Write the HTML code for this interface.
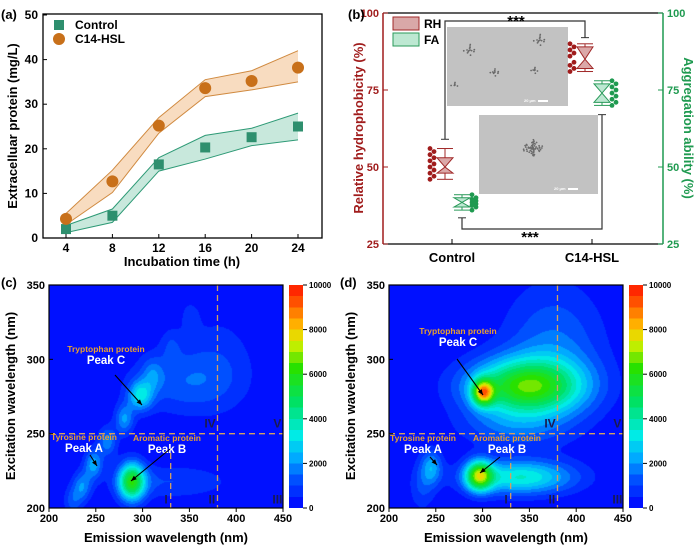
<!DOCTYPE html>
<html><head><meta charset="utf-8"><style>
html,body{margin:0;padding:0;background:#fff;}
#wrap{position:relative;width:700px;height:550px;overflow:hidden;font-family:"Liberation Sans",Arial,sans-serif;}
canvas{position:absolute;}
svg{position:absolute;left:0;top:0;}
text{font-family:"Liberation Sans",Arial,sans-serif;font-weight:bold;}
</style></head><body>
<div id="wrap">
<canvas id="cvC" width="234" height="223" style="left:49px;top:285px"></canvas>
<canvas id="cvD" width="234" height="223" style="left:389px;top:285px"></canvas>
<svg id="svg" width="700" height="550"></svg>
</div>
<script>
// ---- Panel (a) data ----
const timeCats = [4, 8, 12, 16, 20, 24];
const ctrlMean = [2.0, 5.0, 16.5, 20.3, 22.6, 25.0];
const ctrlLow  = [1.2, 3.5, 15.0, 17.7, 20.7, 22.0];
const ctrlHigh = [2.8, 6.5, 18.0, 23.0, 24.6, 28.0];
const hslMean  = [4.3, 12.7, 25.2, 33.6, 35.2, 38.2];
const hslLow   = [3.0, 10.2, 23.5, 31.7, 33.2, 35.0];
const hslHigh  = [5.5, 15.2, 27.0, 35.5, 37.5, 42.0];
const aYTicks = [0, 10, 20, 30, 40, 50];
// ---- Panel (b) data ----
const bCats = ["Control", "C14-HSL"];
const rhPoints = [[46,47,48,49,50,51,52,53,54,55,56],[81,82,83,84,86,87,88,89,90]];
const faPoints = [[36,37,37.5,38,38.5,39,39.5,40,41],[70,71,72,73,74,75,76,77,78]];
const rhBox = [[46,48,50,53,56],[81,82,85,89,90]];
const faBox = [[36,37,38.5,40,41],[70,71,74,77,78]];
const bTicks = [25, 50, 75, 100];
// ---- Panel (c) peaks ----
const cEm = [288, 330, 340, 380, 225, 235, 247, 262, 280, 297, 310, 330, 350];
const cEx = [218, 218, 285, 300, 205, 215, 230, 245, 260, 276, 290, 310, 330];
const cI  = [5500,1000,1200, 700,1200,1800,2200,1800,2000,2800,1200, 700, 500];
const cSx = [10, 45, 40, 30, 7, 7, 7, 7, 7, 9, 8, 8, 8];
const cSy = [9, 8, 15, 25, 7, 7, 7, 7, 7, 7, 8, 8, 8];
// ---- Panel (d) peaks ----
const dEm = [300, 345, 296, 340, 245, 375, 330, 235];
const dEx = [278, 282, 222, 221, 228, 305, 255, 215];
const dI  = [6000,5800,6000,3500,2000,1600,1200,1000];
const dSx = [8, 42, 10, 40, 8, 38, 40, 10];
const dSy = [6, 13, 7, 8, 8, 32, 10, 12];
const cbTicks = [0, 2000, 4000, 6000, 8000, 10000];

const NS = "http://www.w3.org/2000/svg";
const svg = document.getElementById('svg');
function mk(tag, attrs, parent, txt){const e=document.createElementNS(NS,tag);for(const k in attrs)e.setAttribute(k,attrs[k]);if(txt!==undefined)e.textContent=txt;(parent||svg).appendChild(e);return e;}

// ================= Panel (a) =================
const xa = t => 66 + (t-4)*(232/20);
const ya = v => 238 - v*4.46;
const ga = mk('g',{});


function band(lo,hi,fill,stroke,name){
  let d='M'+timeCats.map((t,i)=>xa(t)+','+ya(hi[i])).join('L')+'L'+timeCats.slice().reverse().map((t,j)=>{const i=timeCats.length-1-j;return xa(t)+','+ya(lo[i]);}).join('L')+'Z';
  const p=mk('path',{d:d,fill:fill,stroke:'none'},ga);
  
  
  const l1=mk('path',{d:'M'+timeCats.map((t,i)=>xa(t)+','+ya(hi[i])).join('L'),fill:'none',stroke:stroke,'stroke-width':1},ga);
  
  
  const l2=mk('path',{d:'M'+timeCats.map((t,i)=>xa(t)+','+ya(lo[i])).join('L'),fill:'none',stroke:stroke,'stroke-width':1},ga);
  
  
}
band(hslLow,hslHigh,'#f8dcc0','#d08a40','c14-hsl');
band(ctrlLow,ctrlHigh,'#c8e8dc','#2e9a76','control');
ctrlMean.forEach((v,i)=>{const r=mk('rect',{x:xa(timeCats[i])-5,y:ya(v)-5,width:10,height:10,fill:'#2e8f6e'},ga);
  
  });
hslMean.forEach((v,i)=>{const c=mk('circle',{cx:xa(timeCats[i]),cy:ya(v),r:6,fill:'#c8701a'},ga);
  
  });
mk('rect',{x:43,y:14,width:279,height:224,fill:'none',stroke:'#000','stroke-width':1.3},ga);
aYTicks.forEach(v=>{mk('line',{x1:43,x2:47,y1:ya(v),y2:ya(v),stroke:'#000'},ga);
  const t=mk('text',{x:38,y:ya(v)+4,'text-anchor':'end','font-size':12},ga,v);
  
  });
timeCats.forEach(v=>{mk('line',{x1:xa(v),x2:xa(v),y1:238,y2:234,stroke:'#000'},ga);
  const t=mk('text',{x:xa(v),y:252,'text-anchor':'middle','font-size':12},ga,v);
  
  });
let t;
t=mk('text',{x:182,y:266,'text-anchor':'middle','font-size':13},ga,'Incubation time (h)');


t=mk('text',{x:0,y:0,'text-anchor':'middle','font-size':13,transform:'translate(17,126) rotate(-90)'},ga,'Extracelluar protein (mg/L)');


t=mk('text',{x:1,y:19,'font-size':13},ga,'(a)');


mk('rect',{x:54,y:20,width:10,height:10,fill:'#2e8f6e'},ga);
t=mk('text',{x:75,y:29,'font-size':12},ga,'Control');


mk('circle',{cx:59,cy:39,r:6,fill:'#c8701a'},ga);
t=mk('text',{x:75,y:43,'font-size':12},ga,'C14-HSL');



// ================= Panel (b) =================
const yb = v => 244 - (v-25)*(231/75);
const bx = [452, 592];
const gb = mk('g',{});


function micro(x,y,w,h,name,clusters){
  const r=mk('rect',{x:x,y:y,width:w,height:h,fill:'#c2c2c2'},gb);
  
  
  clusters.forEach(c=>{for(let k=0;k<c[3];k++){mk('circle',{cx:c[0]+Math.cos(k*2.3)*c[2]*((k%5)/5),cy:c[1]+Math.sin(k*2.3)*c[2]*((k%7)/7)*0.8,r:0.9,fill:'#6a6a6a'},gb);}});
  mk('rect',{x:x+w-30,y:y+h-6,width:10,height:2,fill:'#fff'},gb);
  mk('text',{x:x+w-44,y:y+h-4,'font-size':4,fill:'#fff','font-weight':'normal'},gb,'20 μm');
}
micro(447,27,121,79,'microscope-image-control',[[470,50,8,14],[495,72,6,10],[540,40,8,14],[535,70,5,8],[455,85,5,6]]);
micro(479,115,119,79,'microscope-image-c14',[[533,148,12,60]]);
mk('path',{d:`M445,${yb(59)}V21H585V${yb(92)}`,fill:'none',stroke:'#333','stroke-width':1.2},gb);
mk('line',{x1:441,x2:449,y1:yb(59),y2:yb(59),stroke:'#333'},gb);
mk('line',{x1:581,x2:589,y1:yb(92),y2:yb(92),stroke:'#333'},gb);
t=mk('text',{x:516,y:26,'text-anchor':'middle','font-size':15},gb,'***');


mk('path',{d:`M462,${yb(33.5)}V229H602V${yb(67)}`,fill:'none',stroke:'#333','stroke-width':1.2},gb);
mk('line',{x1:458,x2:466,y1:yb(33.5),y2:yb(33.5),stroke:'#333'},gb);
mk('line',{x1:598,x2:606,y1:yb(67),y2:yb(67),stroke:'#333'},gb);
t=mk('text',{x:530,y:242,'text-anchor':'middle','font-size':15},gb,'***');


function boxplot(cx,b,fill,stroke,name){
  const g=mk('g',{},gb);
  
  
  const w=8;
  mk('line',{x1:cx,x2:cx,y1:yb(b[0]),y2:yb(b[4]),stroke:stroke},g);
  mk('line',{x1:cx-w,x2:cx+w,y1:yb(b[0]),y2:yb(b[0]),stroke:stroke},g);
  mk('line',{x1:cx-w,x2:cx+w,y1:yb(b[4]),y2:yb(b[4]),stroke:stroke},g);
  mk('path',{d:`M${cx-w},${yb(b[3])}L${cx+w},${yb(b[3])}L${cx},${yb(b[2])}L${cx+w},${yb(b[1])}L${cx-w},${yb(b[1])}L${cx},${yb(b[2])}Z`,fill:fill,stroke:stroke},g);
}
boxplot(bx[0]-7,rhBox[0],'#dba8a8','#a02828','rh-box-control');
boxplot(bx[1]-7,rhBox[1],'#dba8a8','#a02828','rh-box-c14');
boxplot(bx[0]+10,faBox[0],'#bde8d2','#2a9a5a','fa-box-control');
boxplot(bx[1]+10,faBox[1],'#bde8d2','#2a9a5a','fa-box-c14');
function dots(cx,vals,col,name){vals.forEach((v,i)=>{const c=mk('circle',{cx:cx+(i%2?2:-2),cy:yb(v),r:2.4,fill:col},gb);
  
  });}
dots(bx[0]-20,rhPoints[0],'#a01c1c','rh-point');
dots(bx[1]-20,rhPoints[1],'#a01c1c','rh-point');
dots(bx[0]+22,faPoints[0],'#1f9a50','fa-point');
dots(bx[1]+22,faPoints[1],'#1f9a50','fa-point');
mk('line',{x1:383,x2:663,y1:13,y2:13,stroke:'#000','stroke-width':1.3},gb);
mk('line',{x1:383,x2:663,y1:244,y2:244,stroke:'#000','stroke-width':1.3},gb);
mk('line',{x1:383,x2:383,y1:13,y2:244,stroke:'#a01c1c','stroke-width':1.5},gb);
mk('line',{x1:663,x2:663,y1:13,y2:244,stroke:'#1f9a50','stroke-width':1.5},gb);
bTicks.forEach(v=>{
  mk('line',{x1:383,x2:388,y1:yb(v),y2:yb(v),stroke:'#a01c1c'},gb);
  mk('line',{x1:658,x2:663,y1:yb(v),y2:yb(v),stroke:'#1f9a50'},gb);
  let a=mk('text',{x:379,y:yb(v)+4,'text-anchor':'end','font-size':11,fill:'#a01c1c'},gb,v);
  
  
  a=mk('text',{x:667,y:yb(v)+4,'font-size':11,fill:'#1f9a50'},gb,v);
  
  
});
bCats.forEach((c,i)=>{mk('line',{x1:bx[i],x2:bx[i],y1:244,y2:239,stroke:'#000'},gb);
  const a=mk('text',{x:bx[i],y:262,'text-anchor':'middle','font-size':13},gb,c);
  
  });
t=mk('text',{x:0,y:0,'text-anchor':'middle','font-size':13,fill:'#a01c1c',transform:'translate(363,128) rotate(-90)'},gb,'Relative hydrophobicity (%)');


t=mk('text',{x:0,y:0,'text-anchor':'middle','font-size':13,fill:'#1f9a50',transform:'translate(684,128) rotate(90)'},gb,'Aggregation ability (%)');


t=mk('text',{x:348,y:19,'font-size':13},gb,'(b)');


mk('rect',{x:393,y:17,width:26,height:13,fill:'#d9a8a8',stroke:'#a02828'},gb);
mk('rect',{x:393,y:33,width:26,height:13,fill:'#bde8d2',stroke:'#2a9a5a'},gb);
t=mk('text',{x:424,y:28,'font-size':12},gb,'RH');


t=mk('text',{x:424,y:44,'font-size':12},gb,'FA');



// ================= Heatmaps =================
const stops=[[0,[0,16,255]],[0.1,[0,80,255]],[0.2,[0,170,255]],[0.3,[0,235,230]],[0.45,[0,225,100]],[0.6,[40,225,0]],[0.72,[220,240,0]],[0.8,[255,175,0]],[0.9,[255,80,0]],[1,[255,0,0]]];
function cmap(f){f=Math.max(0,Math.min(1,f));for(let i=1;i<stops.length;i++){if(f<=stops[i][0]){const a=stops[i-1],b=stops[i];const u=(f-a[0])/(b[0]-a[0]);return a[1].map((c,k)=>Math.round(c+(b[1][k]-c)*u));}}return stops[stops.length-1][1];}
function drawHeat(id,em,ex,I,sx,sy){
  const cv=document.getElementById(id),ctx=cv.getContext('2d');const W=cv.width,H=cv.height;
  const img=ctx.createImageData(W,H);
  for(let py=0;py<H;py++){const exv=350-py*150/H;
    for(let px=0;px<W;px++){const emv=200+px*250/W;let s=0;
      for(let k=0;k<em.length;k++){const dx=(emv-em[k])/sx[k],dy=(exv-ex[k])/sy[k];s+=I[k]*Math.exp(-0.5*(dx*dx+dy*dy));}
      s=Math.min(10000,Math.floor(s/500)*500);
      const c=cmap(s/10000);const o=(py*W+px)*4;img.data[o]=c[0];img.data[o+1]=c[1];img.data[o+2]=c[2];img.data[o+3]=255;}}
  ctx.putImageData(img,0,0);
}
drawHeat('cvC',cEm,cEx,cI,cSx,cSy);
drawHeat('cvD',dEm,dEx,dI,dSx,dSy);

function eemPanel(ox,label,name,ann){
  const g=mk('g',{});
  
  
  const X=em=>ox+(em-200)*(234/250), Y=ex=>508-(ex-200)*(223/150);
  const dash={stroke:'#d4a060','stroke-width':1.3,'stroke-dasharray':'6,4',fill:'none'};
  mk('line',Object.assign({x1:X(200),x2:X(450),y1:Y(250),y2:Y(250)},dash),g);
  mk('line',Object.assign({x1:X(380),x2:X(380),y1:Y(350),y2:Y(200)},dash),g);
  mk('line',Object.assign({x1:X(330),x2:X(330),y1:Y(237),y2:Y(200)},dash),g);
  [['IV',372,254],['V',444,254],['I',325,203],['II',374,203],['III',444,203]].forEach(r=>{
    const a=mk('text',{x:X(r[1]),y:Y(r[2]),'text-anchor':'middle','font-size':12,fill:'#1a1a50'},g,r[0]);
    
    });
  ann.forEach(a=>{
    let e=mk('text',{x:a[0],y:a[1],'text-anchor':'middle','font-size':8.5,fill:'#e8a030'},g,a[2]);
    
    
    e=mk('text',{x:a[0],y:a[1]+12,'text-anchor':'middle','font-size':11.5,fill:'#fff'},g,a[3]);
    
    
    mk('line',{x1:a[4],y1:a[5],x2:a[6],y2:a[7],stroke:'#000','stroke-width':1.1},g);
    const ang=Math.atan2(a[7]-a[5],a[6]-a[4]);
    mk('path',{d:`M${a[6]},${a[7]}L${a[6]-6*Math.cos(ang-0.4)},${a[7]-6*Math.sin(ang-0.4)}L${a[6]-6*Math.cos(ang+0.4)},${a[7]-6*Math.sin(ang+0.4)}Z`,fill:'#000'},g);
  });
  mk('rect',{x:ox,y:285,width:234,height:223,fill:'none',stroke:'#000','stroke-width':1.2},g);
  [200,250,300,350].forEach(v=>{mk('line',{x1:ox,x2:ox+4,y1:Y(v),y2:Y(v),stroke:'#000'},g);
    const a=mk('text',{x:ox-4,y:Y(v)+4,'text-anchor':'end','font-size':11},g,v);
    
    });
  [200,250,300,350,400,450].forEach(v=>{mk('line',{x1:X(v),x2:X(v),y1:508,y2:512,stroke:'#000'},g);
    const a=mk('text',{x:X(v),y:522,'text-anchor':'middle','font-size':11},g,v);
    
    });
  let e=mk('text',{x:ox+117,y:542,'text-anchor':'middle','font-size':13},g,'Emission wavelength (nm)');
  
  
  e=mk('text',{x:0,y:0,'text-anchor':'middle','font-size':13,transform:`translate(${ox-34},396) rotate(-90)`},g,'Excitation wavelength (nm)');
  
  
  e=mk('text',{x:label[1],y:287,'font-size':13},g,label[0]);
  
  
  const cbx=ox+240;
  const gid='cb'+ox;const lg=mk('linearGradient',{id:gid,x1:0,y1:1,x2:0,y2:0},g);
  for(let i=0;i<=20;i++){const c=cmap(Math.min(i,19.99)/20);mk('stop',{offset:i/20,'stop-color':`rgb(${c})`},lg);if(i<20){const c2=cmap(i/20);mk('stop',{offset:(i+1)/20-0.0001,'stop-color':`rgb(${c2})`},lg);}}
  mk('rect',{x:cbx,y:285,width:14,height:223,fill:`url(#${gid})`},g);
  cbTicks.forEach(v=>{const yy=508-v/10000*223;mk('line',{x1:cbx+14,x2:cbx+18,y1:yy,y2:yy,stroke:'#000'},g);
    const a=mk('text',{x:cbx+20,y:yy+3,'font-size':8},g,v);
    
    });
}
eemPanel(49,['(c)',1],'panel-c',[[106,352,'Tryptophan protein','Peak C',115,375,142,405],[84,440,'Tyrosine protein','Peak A',90,455,97,466],[167,441,'Aromatic protein','Peak B',170,449,131,481]]);
eemPanel(389,['(d)',340],'panel-d',[[458,334,'Tryptophan protein','Peak C',457,359,483,395],[423,441,'Tyrosine protein','Peak A',430,457,437,465],[507,441,'Aromatic protein','Peak B',500,457,480,473]]);
</script>
</body></html>
